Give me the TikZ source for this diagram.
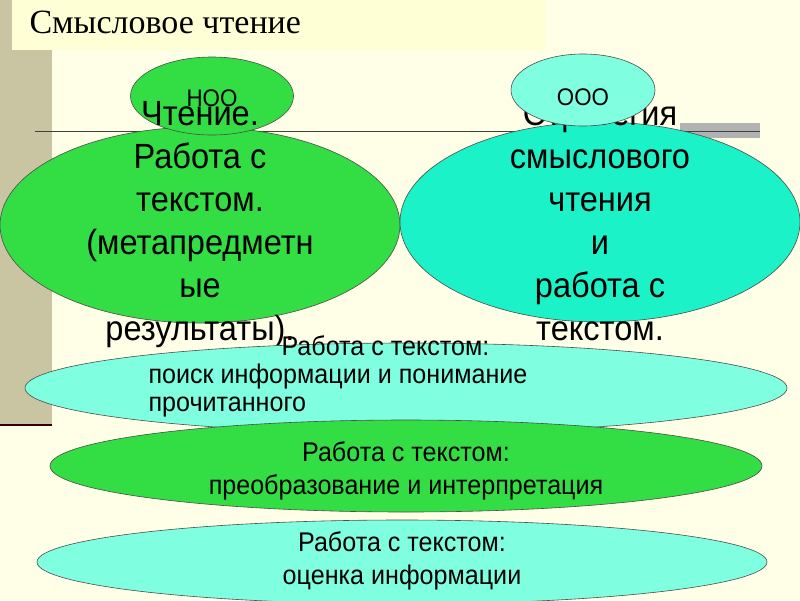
\documentclass[tikz,border=0pt]{standalone}
\usepackage{fontspec}
\setmainfont{Liberation Sans}[FakeStretch=0.93]
\newfontfamily\titlefont{Liberation Serif}
\usetikzlibrary{shapes.geometric}
\definecolor{bgc}{HTML}{FFFFE8}
\definecolor{stripc}{HTML}{C9C5A2}
\definecolor{titlec}{HTML}{FFFFD6}
\definecolor{grn}{HTML}{33DD44}
\definecolor{cyn}{HTML}{1CF2C8}
\definecolor{aqua}{HTML}{80FFE0}
\tikzset{
 ell/.style={ellipse, draw=black!70, line width=0.6pt, inner sep=0pt},
 bigtxt/.style={font=\fontsize{35}{43}\selectfont, align=center},
 smtxt/.style={font=\fontsize{27}{33}\selectfont},
}
\begin{document}
\begin{tikzpicture}[x=1pt,y=-1pt]
\fill[bgc] (0,0) rectangle (800,600);
\useasboundingbox (0,0) rectangle (800,600);
\fill[stripc] (0,0) rectangle (52,425);
\fill[titlec] (12,0) rectangle (545,50);
\draw[draw=black!80!red, line width=2pt] (0,425) -- (52,425);
\node[anchor=west, font=\titlefont\fontsize{34}{36}\selectfont] (title) at (26,22) {Смысловое чтение};
\fill[gray!60] (680,123) rectangle (760,138);
\coordinate (l1) at (35,131); \coordinate (l2) at (760,131);
\draw[black!75, line width=0.8pt] (l1) -- (l2);
\node[ell, fill=grn, minimum width=400pt, minimum height=196pt] (A) at (200,225) {};
\node[ell, fill=cyn, minimum width=400pt, minimum height=200pt] (B) at (600,222) {};
\node[bigtxt, anchor=north] (Bt) at (600,98) {Стратегия\\смыслового\\чтения\\и\\работа с\\текстом.};
\node[ell, fill=grn, minimum width=163pt, minimum height=78pt] (N) at (212,96) {};
\node[font=\fontsize{24}{28}\selectfont] at (212,98) {НОО};
\node[bigtxt, anchor=north] (At) at (200,98) {Чтение.\\Работа с\\текстом.\\(метапредметн\\ые\\результаты).};
\node[ell, fill=aqua, minimum width=144pt, minimum height=72pt] (O) at (583,90) {};
\node[font=\fontsize{24}{28}\selectfont] at (583,97) {ООО};
\node[ell, fill=aqua, minimum width=762pt, minimum height=90pt] (E3) at (406,388) {};
\node[smtxt, anchor=west] at (278,346) {Работа с текстом:};
\node[smtxt, anchor=west] at (145,377) {поиск информации и понимание};
\node[smtxt, anchor=west] at (145,407) {прочитанного};
\node[ell, fill=grn, minimum width=712pt, minimum height=92pt] (E4) at (406,466) {};
\node[smtxt, align=center] at (406,471) {Работа с текстом:\\преобразование и интерпретация};
\node[ell, fill=aqua, minimum width=730pt, minimum height=84pt] (E5) at (402,562) {};
\node[smtxt, align=center] at (402,561) {Работа с текстом:\\оценка информации};
\end{tikzpicture}
\end{document}
